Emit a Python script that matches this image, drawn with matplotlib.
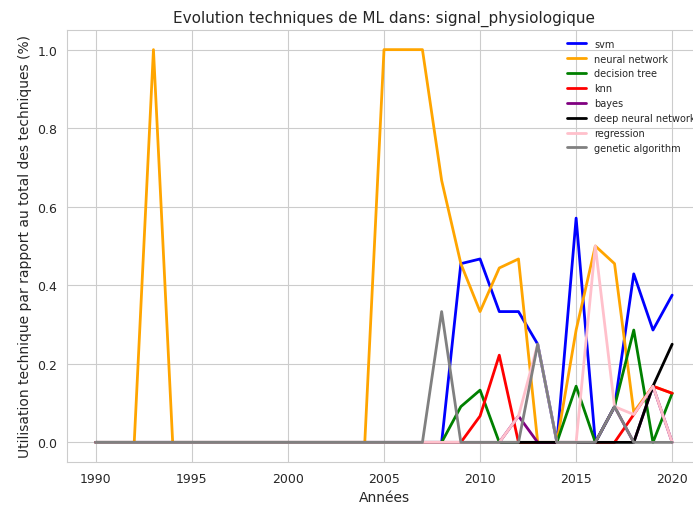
import numpy as np
import matplotlib
matplotlib.use('Agg')
import matplotlib.pyplot as plt
import seaborn as sns

years = list(range(1990, 2021))

def series(values):
    # values given for 2005..2020, zeros before
    return [0.0] * (len(years) - len(values)) + values

# 2005 .. 2020
svm = series([0, 0, 0, 0, 0.455, 0.467, 0.333, 0.333, 0.25, 0, 0.571, 0, 0.091, 0.429, 0.286, 0.375])
neural_network = [0, 0, 0, 1.0] + [0.0] * 11 + [1.0, 1.0, 1.0, 0.667, 0.455, 0.333, 0.444, 0.467, 0, 0, 0.286, 0.5, 0.455, 0.077, 0.143, 0.125]
decision_tree = series([0, 0, 0, 0, 0.091, 0.133, 0, 0, 0, 0, 0.143, 0, 0.091, 0.286, 0, 0.125])
knn = series([0, 0, 0, 0, 0, 0.067, 0.222, 0, 0, 0, 0, 0, 0, 0.071, 0.143, 0.125])
bayes = series([0, 0, 0, 0, 0, 0, 0, 0.067, 0, 0, 0, 0, 0.091, 0, 0.143, 0])
deep_neural_network = series([0, 0, 0, 0, 0, 0, 0, 0, 0, 0, 0, 0, 0, 0, 0.143, 0.25])
regression = series([0, 0, 0, 0, 0, 0, 0, 0.067, 0.25, 0, 0, 0.5, 0.091, 0.071, 0.143, 0])
genetic_algorithm = series([0, 0, 0, 0.333, 0, 0, 0, 0, 0.25, 0, 0, 0, 0.091, 0, 0, 0])

techniques = ['svm', 'neural network', 'decision tree', 'knn', 'bayes',
              'deep neural network', 'regression', 'genetic algorithm']
data = [svm, neural_network, decision_tree, knn, bayes,
        deep_neural_network, regression, genetic_algorithm]
colors = ['blue', 'orange', 'green', 'red', 'purple', 'black', 'pink', 'gray']

sns.set_style('whitegrid')
plt.rcParams['font.family'] = ['DejaVu Sans']

fig = plt.figure(figsize=(6.93, 5.06), dpi=100)
# the original figure is cropped on the right, so the axes run past the edge
ax = fig.add_axes([67 / 693, 43 / 506, (701 - 67) / 693, (463 - 31) / 506])
for name, vals, c in zip(techniques, data, colors):
    ax.plot(years, vals, label=name, color=c, linewidth=2)

ax.set_title('Evolution techniques de ML dans: signal_physiologique', fontsize=11)
ax.set_xlabel('Années', fontsize=10)
ax.set_ylabel('Utilisation technique par rapport au total des techniques (%)', fontsize=10)
ax.set_xticks(range(1990, 2021, 5))
ax.set_yticks(np.arange(0, 1.01, 0.2))
ax.tick_params(labelsize=9)
ax.legend(loc='upper right', bbox_to_anchor=(1.005, 1.0), fontsize=7, frameon=False)

plt.savefig('out.png', dpi=100)
